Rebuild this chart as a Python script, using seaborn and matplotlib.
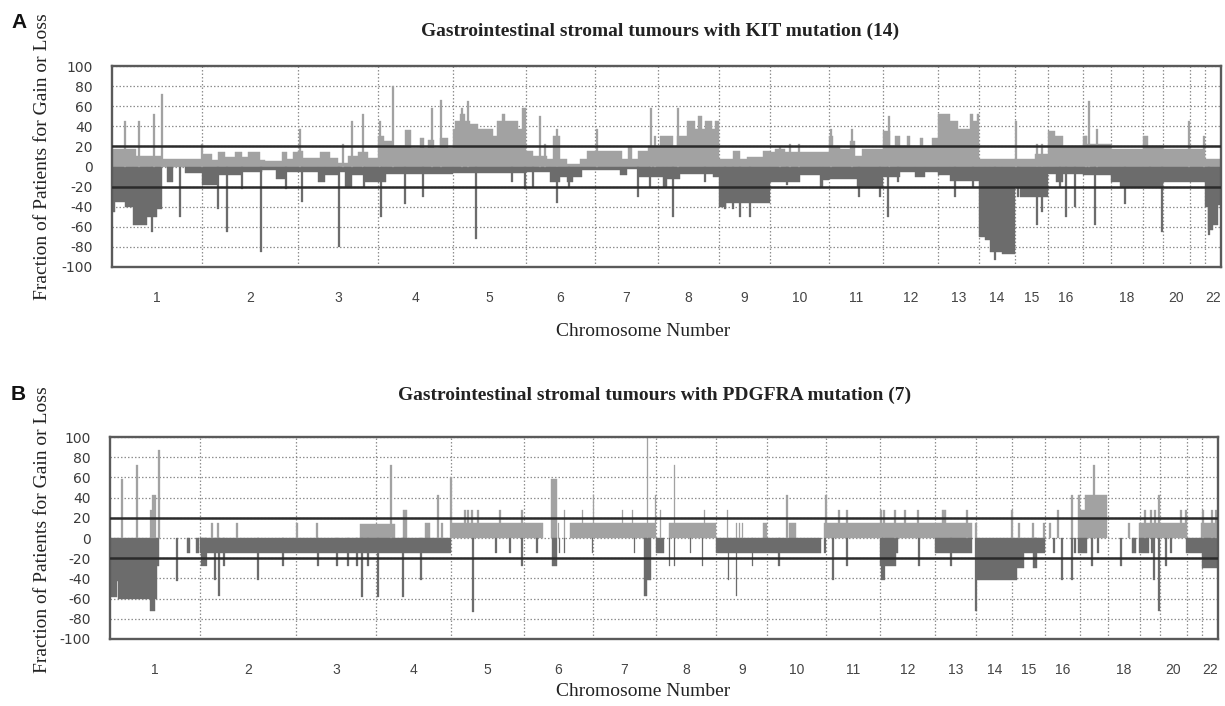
import matplotlib
matplotlib.use("Agg")
import matplotlib.pyplot as plt
import numpy as np
import pandas as pd
import seaborn as sns

# ---------------- data ----------------
chromosomes = [str(i) for i in range(1, 23)]
chrom_len = [90, 96, 80, 75, 73, 69, 63, 61, 51, 59, 54, 55, 41, 36, 33, 35, 28, 32, 20, 27, 15, 16]
chrom_labels = [c if c not in ("17", "19", "21") else "" for c in chromosomes]
y_ticks = [100, 80, 60, 40, 20, 0, -20, -40, -60, -80, -100]
thresholds = [20, -20]

title_kit = "Gastrointestinal stromal tumours with KIT mutation (14)"
title_pdg = "Gastrointestinal stromal tumours with PDGFRA mutation (7)"

# KIT panel: (start, end, percent) along the genome
kit_gain_segments = [
    (0, 24, 17), (24, 50, 10), (50, 90, 7),
    (90, 100, 12), (100, 106, 6), (106, 113, 14), (113, 123, 9), (123, 130, 14), (130, 136, 9),
    (136, 148, 14), (148, 153, 6), (153, 170, 5), (170, 175, 14), (175, 181, 7), (181, 186, 14),
    (186, 191, 15), (191, 208, 8), (208, 218, 14), (218, 226, 8), (226, 236, 3), (236, 246, 10),
    (246, 256, 14), (256, 266, 8),
    (266, 272, 30), (272, 280, 25), (280, 293, 20), (293, 299, 36), (299, 308, 18), (308, 312, 28),
    (312, 316, 18), (316, 322, 26), (322, 328, 18), (328, 336, 28), (336, 341, 18),
    (341, 343, 37), (343, 348, 45), (348, 353, 52), (353, 358, 45), (358, 366, 42), (366, 381, 37),
    (381, 385, 30), (385, 390, 45), (390, 393, 52), (393, 406, 45), (406, 410, 37), (410, 414, 58),
    (414, 421, 15), (421, 435, 10), (435, 441, 7), (441, 448, 30), (448, 455, 7), (455, 468, 2),
    (468, 475, 7), (475, 483, 15),
    (483, 510, 15), (510, 516, 7), (516, 520, 20), (520, 526, 7), (526, 536, 15), (536, 546, 20),
    (546, 548, 20), (548, 561, 30), (561, 565, 20), (565, 575, 30), (575, 583, 45), (583, 586, 37),
    (586, 590, 50), (590, 593, 37), (593, 600, 45), (600, 603, 37), (603, 607, 45),
    (607, 621, 7), (621, 628, 15), (628, 635, 7), (635, 651, 9), (651, 658, 15),
    (658, 663, 14), (663, 673, 17), (673, 717, 14),
    (717, 721, 30), (721, 728, 20), (728, 738, 17), (738, 743, 25), (743, 750, 10), (750, 771, 17),
    (771, 778, 35), (778, 783, 20), (783, 788, 30), (788, 795, 20), (795, 798, 30), (798, 808, 20),
    (808, 811, 28), (811, 820, 20), (820, 826, 28),
    (826, 838, 52), (838, 846, 45), (846, 858, 37), (858, 861, 52), (861, 865, 45), (865, 867, 52),
    (867, 903, 7), (903, 923, 7), (923, 936, 12),
    (936, 943, 35), (943, 951, 30), (951, 971, 20), (971, 975, 30), (975, 999, 22),
    (999, 1031, 17), (1031, 1036, 30), (1036, 1051, 20), (1051, 1078, 17), (1078, 1093, 17),
    (1093, 1109, 7),
]
kit_loss_segments = [
    (0, 3, -45), (3, 13, -35), (13, 21, -40), (21, 35, -58), (35, 45, -50), (45, 50, -42),
    (55, 61, -15), (73, 90, -6),
    (90, 105, -18), (105, 130, -8), (130, 150, -5), (150, 164, -3), (164, 173, -12), (173, 186, -5),
    (186, 206, -5), (206, 213, -15), (213, 226, -8), (226, 233, -5), (233, 240, -20), (240, 253, -8),
    (253, 266, -15),
    (266, 274, -15), (274, 341, -7), (341, 414, -6),
    (414, 438, -5), (438, 448, -15), (448, 455, -10), (455, 461, -15), (461, 470, -10), (470, 483, -3),
    (483, 508, -3), (508, 515, -8), (515, 526, -2), (526, 546, -10),
    (546, 551, -10), (551, 555, -20), (555, 568, -12), (568, 601, -7), (601, 607, -10),
    (607, 614, -40), (614, 658, -36),
    (658, 688, -15), (688, 708, -8), (708, 711, -20), (711, 717, -13),
    (717, 745, -12), (745, 771, -20),
    (771, 788, -10), (788, 803, -5), (803, 813, -10), (813, 826, -5),
    (826, 838, -8), (838, 867, -14),
    (867, 873, -70), (873, 878, -73), (878, 890, -85), (890, 903, -87),
    (903, 908, -20), (908, 936, -30),
    (936, 944, -7), (944, 951, -15), (951, 971, -7), (971, 999, -8),
    (999, 1008, -15), (1008, 1031, -20), (1031, 1051, -20), (1051, 1078, -15), (1078, 1093, -15),
    (1093, 1096, -40), (1096, 1101, -63), (1101, 1106, -58), (1106, 1109, -38),
]
kit_gain_spikes = [
    (13, 45), (27, 45), (42, 52), (50, 72), (90, 22), (188, 37), (231, 22), (240, 45), (251, 52),
    (268, 45), (281, 80), (320, 58), (329, 66), (350, 58), (356, 65), (428, 50), (433, 22),
    (445, 37), (485, 37), (539, 58), (543, 30), (566, 58), (668, 20), (678, 22), (687, 22),
    (719, 37), (740, 37), (777, 50), (904, 45), (925, 22), (930, 22), (974, 30), (977, 65),
    (985, 37), (1077, 45), (1092, 30),
]
kit_loss_spikes = [
    (40, -65), (68, -50), (106, -42), (115, -65), (130, -22), (149, -85), (174, -22), (190, -35),
    (227, -80), (252, -20), (269, -50), (293, -37), (311, -30), (364, -72), (400, -15), (413, -22),
    (421, -20), (445, -36), (457, -20), (526, -30), (538, -20), (561, -50), (593, -15), (613, -42),
    (621, -42), (628, -50), (638, -50), (675, -18), (747, -30), (768, -30), (776, -50), (786, -15),
    (843, -30), (861, -20), (883, -93), (906, -30), (925, -58), (930, -45), (948, -20), (954, -50),
    (963, -40), (983, -58), (1013, -37), (1038, -20), (1050, -65), (1097, -68),
]

# PDGFRA panel
pdg_gain_segments = [
    (250, 285, 14), (293, 297, 28), (315, 320, 15), (341, 433, 15), (441, 447, 58),
    (460, 545, 15), (560, 607, 15), (654, 658, 15), (680, 687, 15), (715, 863, 15),
    (833, 837, 28), (969, 971, 43), (971, 976, 28), (976, 998, 43), (1030, 1078, 15),
    (1092, 1109, 15),
]
pdg_loss_segments = [
    (0, 7, -58), (7, 8, -43), (8, 40, -60), (40, 45, -72), (45, 47, -60), (47, 49, -28),
    (77, 80, -15), (86, 89, -15), (90, 341, -15), (442, 447, -28), (534, 537, -57),
    (537, 541, -42), (546, 555, -15), (607, 712, -15), (771, 787, -28), (787, 789, -15),
    (826, 863, -15), (867, 908, -42), (908, 915, -30), (915, 936, -15), (924, 928, -30),
    (969, 978, -15), (1023, 1027, -15), (1030, 1040, -15), (1077, 1092, -15), (1092, 1093, -15),
    (1093, 1109, -30),
]
pdg_gain_spikes = [
    (12, 58), (27, 72), (41, 28), (43, 43), (45, 43), (49, 87), (102, 15), (108, 15), (127, 15),
    (187, 15), (207, 15), (281, 72), (328, 43), (332, 15), (341, 60), (355, 28), (358, 28),
    (362, 28), (368, 28), (390, 28), (412, 28), (449, 15), (455, 28), (473, 28), (484, 43),
    (513, 28), (523, 28), (538, 100), (546, 43), (551, 28), (565, 72), (595, 28), (618, 28),
    (627, 15), (630, 15), (633, 15), (678, 43), (717, 43), (730, 28), (738, 28), (772, 28),
    (775, 28), (786, 28), (796, 28), (809, 28), (858, 28), (867, 15), (903, 28), (910, 15),
    (924, 15), (935, 15), (941, 15), (949, 28), (963, 43), (985, 72), (1020, 15), (1036, 28),
    (1042, 28), (1046, 28), (1050, 43), (1072, 28), (1077, 28), (1094, 28), (1103, 28),
    (1107, 28),
]
pdg_loss_spikes = [
    (67, -43), (92, -28), (94, -28), (96, -28), (105, -42), (109, -57), (114, -28), (148, -42),
    (173, -28), (208, -28), (227, -28), (238, -28), (247, -28), (252, -58), (258, -28),
    (268, -58), (293, -58), (311, -42), (363, -73), (386, -15), (400, -15), (412, -28),
    (427, -15), (450, -15), (455, -15), (483, -15), (525, -15), (560, -28), (565, -28),
    (581, -15), (593, -28), (619, -42), (627, -57), (643, -28), (670, -28), (716, -15),
    (724, -42), (738, -28), (773, -42), (775, -42), (810, -28), (842, -28), (867, -72),
    (945, -15), (953, -42), (963, -42), (966, -15), (983, -28), (989, -15), (1012, -28),
    (1043, -15), (1045, -42), (1050, -72), (1057, -28), (1062, -15),
]

# ---------------- style ----------------
sns.set_theme(style="white")
plt.rcParams["font.family"] = ["DejaVu Sans"]
gain_col = "#a2a2a2"
loss_col = "#6c6c6c"
W, H = 1225, 706
fig = plt.figure(figsize=(W / 100, H / 100), dpi=100)

bounds = np.concatenate([[0], np.cumsum(chrom_len)])
centers = (bounds[:-1] + bounds[1:]) / 2
total = bounds[-1]


def seg_df(segs):
    return pd.DataFrame(segs, columns=["start", "end", "value"])


def spike_df(sp):
    return pd.DataFrame(sp, columns=["pos", "value"])


def draw_panel(rect, gain_s, loss_s, gain_p, loss_p):
    ax = fig.add_axes(rect)
    ax.set_xlim(0, total)
    ax.set_ylim(-100, 100)
    for df, col in ((seg_df(gain_s), gain_col), (seg_df(loss_s), loss_col)):
        ax.bar(df["start"], df["value"], width=df["end"] - df["start"], align="edge",
               color=col, edgecolor=col, linewidth=0.3, zorder=2)
    for df, col in ((spike_df(gain_p), gain_col), (spike_df(loss_p), loss_col)):
        ax.bar(df["pos"], df["value"], width=1.8, align="center",
               color=col, edgecolor=col, linewidth=0.2, zorder=2)
    for t in thresholds:
        ax.axhline(t, color="#2b2b2b", lw=1.8, zorder=4)
    ax.set_yticks(y_ticks)
    ax.set_yticklabels([str(v) for v in y_ticks], fontsize=10, color="#3a3a3a",
                       family="DejaVu Sans")
    ax.set_xticks(centers)
    ax.set_xticklabels(chrom_labels, fontsize=10, color="#444444",
                       family=["Liberation Sans Narrow", "Liberation Sans", "DejaVu Sans"])
    ax.set_xticks(bounds[1:-1], minor=True)
    ax.tick_params(axis="y", length=0, pad=14)
    ax.tick_params(axis="x", which="both", length=0, pad=17)
    ax.yaxis.grid(True, linestyle=(0, (1.2, 1.6)), color="#8f8f8f", lw=0.9, zorder=0)
    ax.xaxis.grid(True, which="minor", linestyle=(0, (1.2, 1.6)), color="#8f8f8f", lw=0.9, zorder=0)
    ax.xaxis.grid(False, which="major")
    ax.set_axisbelow(True)
    for s in ax.spines.values():
        s.set_color("#5a5a5a")
        s.set_linewidth(1.7)
        s.set_visible(True)
    return ax


axA = draw_panel([112 / W, 1 - 267 / H, 1109 / W, 201 / H],
                 kit_gain_segments, kit_loss_segments, kit_gain_spikes, kit_loss_spikes)
axB = draw_panel([110 / W, 1 - 639 / H, 1108 / W, 202 / H],
                 pdg_gain_segments, pdg_loss_segments, pdg_gain_spikes, pdg_loss_spikes)

serif = ["Liberation Serif", "DejaVu Serif"]
fig.text(660 / W, 1 - 31 / H, title_kit, ha="center", va="center", fontsize=14,
         fontweight="bold", family=serif, color="#222222")
fig.text(655 / W, 1 - 395 / H, title_pdg, ha="center", va="center", fontsize=14,
         fontweight="bold", family=serif, color="#222222")
for yc in (157, 530):
    fig.text(43 / W, 1 - yc / H, "Fraction of Patients for Gain or Loss", rotation=90,
             ha="center", va="center", fontsize=14, family=serif, color="#222222")
fig.text(643 / W, 1 - 332 / H, "Chromosome Number", ha="center", va="center",
         fontsize=14, family=serif, color="#222222")
fig.text(643 / W, 1 - 692 / H, "Chromosome Number", ha="center", va="center",
         fontsize=14, family=serif, color="#222222")
fig.text(11 / W, 1 - 22 / H, "A", ha="left", va="center", fontsize=15, fontweight="bold",
         family=["Liberation Sans", "DejaVu Sans"], color="#111111")
fig.text(11 / W, 1 - 394 / H, "B", ha="left", va="center", fontsize=15, fontweight="bold",
         family=["Liberation Sans", "DejaVu Sans"], color="#111111")

fig.savefig("out.png", dpi=100, facecolor="white")
